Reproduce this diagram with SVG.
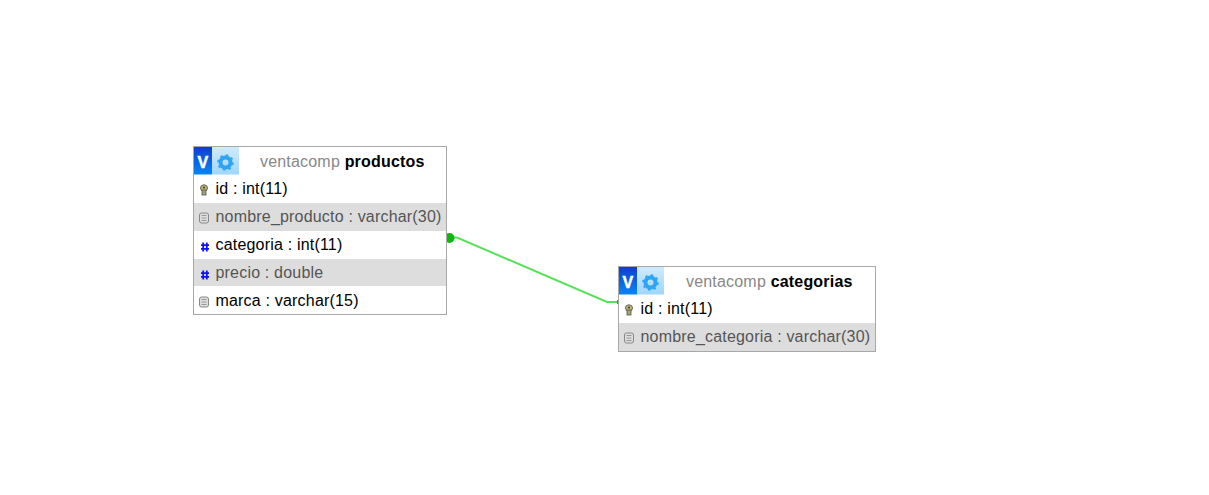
<svg xmlns="http://www.w3.org/2000/svg" width="1209" height="495" viewBox="0 0 1209 495">
<defs>
<linearGradient id="vg" x1="0" y1="0" x2="0" y2="1"><stop offset="0" stop-color="#0a3fd0"/><stop offset="1" stop-color="#0a86f2"/></linearGradient>
<linearGradient id="gg" x1="0" y1="0" x2="0" y2="1"><stop offset="0" stop-color="#cfeafc"/><stop offset="1" stop-color="#9fd6fa"/></linearGradient>
<g id="head">
<rect x="0" y="0" width="18" height="27.500" fill="url(#vg)"/>
<rect x="18" y="0" width="27" height="27.500" fill="url(#gg)"/>
<text x="9" y="20.500" text-anchor="middle" style="font:bold 16px 'Liberation Sans',sans-serif;fill:#fff;stroke:#fff;stroke-width:.5">V</text>
<circle cx="31.500" cy="15.500" r="5" fill="none" stroke="#2ea4f4" stroke-width="4"/>
<circle cx="31.500" cy="15.500" r="7.500" fill="none" stroke="#2ea4f4" stroke-width="1.600" stroke-dasharray="2.500 3.400"/>
</g>
<g id="key">
<ellipse cx="0" cy="-2" rx="3.500" ry="3.200" fill="#c4b870" stroke="#666" stroke-width="1"/>
<rect x="-2" y="0" width="4" height="5" fill="#a5a27a" stroke="#555" stroke-width=".8"/>
<circle cx="0" cy="-2.500" r="1" fill="#333"/>
</g>
<g id="txt">
<rect x="-4.500" y="-5" width="9" height="10" rx="2" fill="#ddd" stroke="#888" stroke-width="1"/>
<path d="M-2.500-2.500h5M-2.500 0h5M-2.500 2.500h5" stroke="#888" stroke-width=".8" fill="none"/>
</g>
<g id="num">
<path d="M-1.800-4.500v9M1.800-4.500v9M-4-1.800h8M-4 1.800h8" stroke="#1010f0" stroke-width="1.800" fill="none"/>
</g>
</defs>
<style>
.box{fill:#fff;stroke:#a8a8a8;stroke-width:1}
.alt{fill:#dddddd}
text{letter-spacing:.19px}
.t{font:16px 'Liberation Sans',Arial,sans-serif;fill:#000}
.g{font:16px 'Liberation Sans',Arial,sans-serif;fill:#555}
.db{font:16px 'Liberation Sans',Arial,sans-serif;fill:#888}
.name{font:bold 16px 'Liberation Sans',Arial,sans-serif;fill:#000}
.link{fill:none;stroke:#5ae05a;stroke-width:2}
</style>
<rect width="1209" height="495" fill="#fff"/>
<g id="connectors">
<path class="link" d="M447 237.500H457L607 302H619"/>
<circle cx="449.500" cy="238" r="5" fill="#0cb80c"/>
<rect x="617" y="300" width="2.500" height="4" fill="#0cb80c"/>
</g>
<g id="productos">
<rect class="box" x="193.500" y="146.500" width="253" height="168"/>
<use href="#head" x="194" y="147"/>
<text x="260" y="167" class="db">ventacomp <tspan class="name">productos</tspan></text>
<rect class="alt" x="194" y="203" width="252" height="28"/>
<rect class="alt" x="194" y="259" width="252" height="27"/>
<use href="#key" x="204" y="190"/><text x="215.500" y="194" class="t">id : int(11)</text>
<use href="#txt" x="204" y="218"/><text x="215.500" y="222" class="g">nombre_producto : varchar(30)</text>
<use href="#num" x="205" y="247"/><text x="215.500" y="250" class="t">categoria : int(11)</text>
<use href="#num" x="205" y="275"/><text x="215.500" y="278" class="g">precio : double</text>
<use href="#txt" x="204" y="302"/><text x="215.500" y="306" class="t">marca : varchar(15)</text>
</g>
<g id="categorias">
<rect class="box" x="618.500" y="266.500" width="257" height="85"/>
<use href="#head" x="619" y="267"/>
<text x="686" y="287" class="db">ventacomp <tspan class="name">categorias</tspan></text>
<rect class="alt" x="619" y="323" width="256" height="28"/>
<use href="#key" x="629" y="310"/><text x="640.500" y="314" class="t">id : int(11)</text>
<use href="#txt" x="629" y="338"/><text x="640.500" y="342" class="g">nombre_categoria : varchar(30)</text>
</g>
</svg>
